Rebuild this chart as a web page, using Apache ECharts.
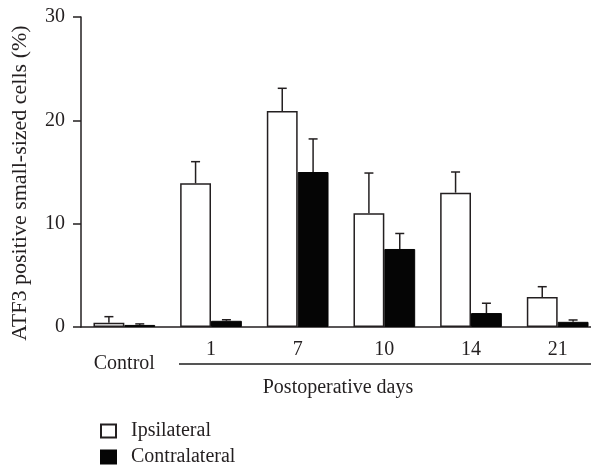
<!DOCTYPE html>
<html><head><meta charset="utf-8">
<script src="https://cdn.jsdelivr.net/npm/echarts@6/dist/echarts.min.js"></script>
<style>html,body{margin:0;padding:0;background:#fff}#c{width:591px;height:466px}</style>
</head><body><div id="c"></div>
<script>
var categories = ['Control', '1', '7', '10', '14', '21'];
var ipsilateral = [0.4, 13.9, 20.9, 11.0, 13.0, 2.9];
var ipsilateralErr = [0.6, 2.1, 2.2, 3.9, 2.0, 1.0];
var contralateral = [0.2, 0.6, 15.0, 7.55, 1.35, 0.5];
var contralateralErr = [0.1, 0.1, 3.2, 1.5, 0.95, 0.18];
var yTicks = [0, 10, 20, 30];

var FONT = 'Liberation Serif';
var TXT = '#231f20';
var chart = echarts.init(document.getElementById('c'), null, {renderer: 'canvas'});

function errSeries(vals, errs, side) {
  return {
    type: 'custom',
    z: 5,
    silent: true,
    data: vals.map(function (v, i) { return [i, v, v + errs[i]]; }),
    renderItem: function (params, api) {
      var band = api.size([1, 0])[0];
      var off = side * band * 0.178;
      var p0 = api.coord([api.value(0), api.value(1)]);
      var p1 = api.coord([api.value(0), api.value(2)]);
      var x = p0[0] + off;
      var cap = 4.5;
      var st = {stroke: '#231f20', lineWidth: 1.5};
      return {type: 'group', children: [
        {type: 'line', shape: {x1: x, y1: p0[1], x2: x, y2: p1[1]}, style: st},
        {type: 'line', shape: {x1: x - cap, y1: p1[1], x2: x + cap, y2: p1[1]}, style: st}
      ]};
    }
  };
}

function legendFor(name, top) {
  return {
    left: 100, top: top, padding: 0, itemWidth: 15, itemHeight: 13,
    icon: 'rect',
    textStyle: {fontFamily: FONT, fontSize: 20, color: TXT, padding: [0, 0, 0, 10]},
    data: [name]
  };
}

chart.setOption({
  animation: false,
  grid: {left: 81, top: 17, width: 520, height: 310, containLabel: false, outerBoundsMode: 'none'},
  legend: [legendFor('Ipsilateral', 421), legendFor('Contralateral', 447)],
  xAxis: {
    type: 'category', data: categories,
    axisLine: {lineStyle: {color: '#231f20', width: 1.5}},
    axisTick: {show: false},
    axisLabel: {
      interval: 0,
      fontFamily: FONT, fontSize: 20, color: TXT, margin: 13,
      formatter: function (v) { return v === 'Control' ? '{c|' + v + '}' : v; },
      rich: {c: {fontFamily: FONT, fontSize: 20, color: TXT, padding: [14, 0, 0, 0]}}
    }
  },
  yAxis: {
    type: 'value', min: yTicks[0], max: yTicks[yTicks.length - 1], interval: 10,
    name: 'ATF3 positive small-sized cells (%)', nameLocation: 'middle', nameGap: 50,
    nameTextStyle: {fontFamily: FONT, fontSize: 22, color: TXT, padding: [0, 22, 0, 0]},
    axisLine: {show: true, lineStyle: {color: '#231f20', width: 1.5}},
    axisTick: {show: true, length: 8, lineStyle: {color: '#231f20', width: 1.5}},
    axisLabel: {fontFamily: FONT, fontSize: 20, color: TXT, margin: 16},
    splitLine: {show: false}
  },
  graphic: [
    {type: 'line', shape: {x1: 179, y1: 364, x2: 591, y2: 364}, style: {stroke: '#555', lineWidth: 2}},
    {type: 'text', style: {text: 'Postoperative days', fontFamily: FONT, fontSize: 20, fill: TXT, x: 338, y: 388, textAlign: 'center', textVerticalAlign: 'middle'}}
  ],
  series: [
    {name: 'Ipsilateral', type: 'bar', data: ipsilateral, barWidth: '35.6%', barGap: '0%',
      itemStyle: {color: '#fff', borderColor: '#231f20', borderWidth: 1.5}},
    {name: 'Contralateral', type: 'bar', data: contralateral, barWidth: '35.6%', barGap: '0%',
      itemStyle: {color: '#050505', borderColor: '#050505', borderWidth: 1}},
    errSeries(ipsilateral, ipsilateralErr, -1),
    errSeries(contralateral, contralateralErr, 1)
  ]
});
</script></body></html>
